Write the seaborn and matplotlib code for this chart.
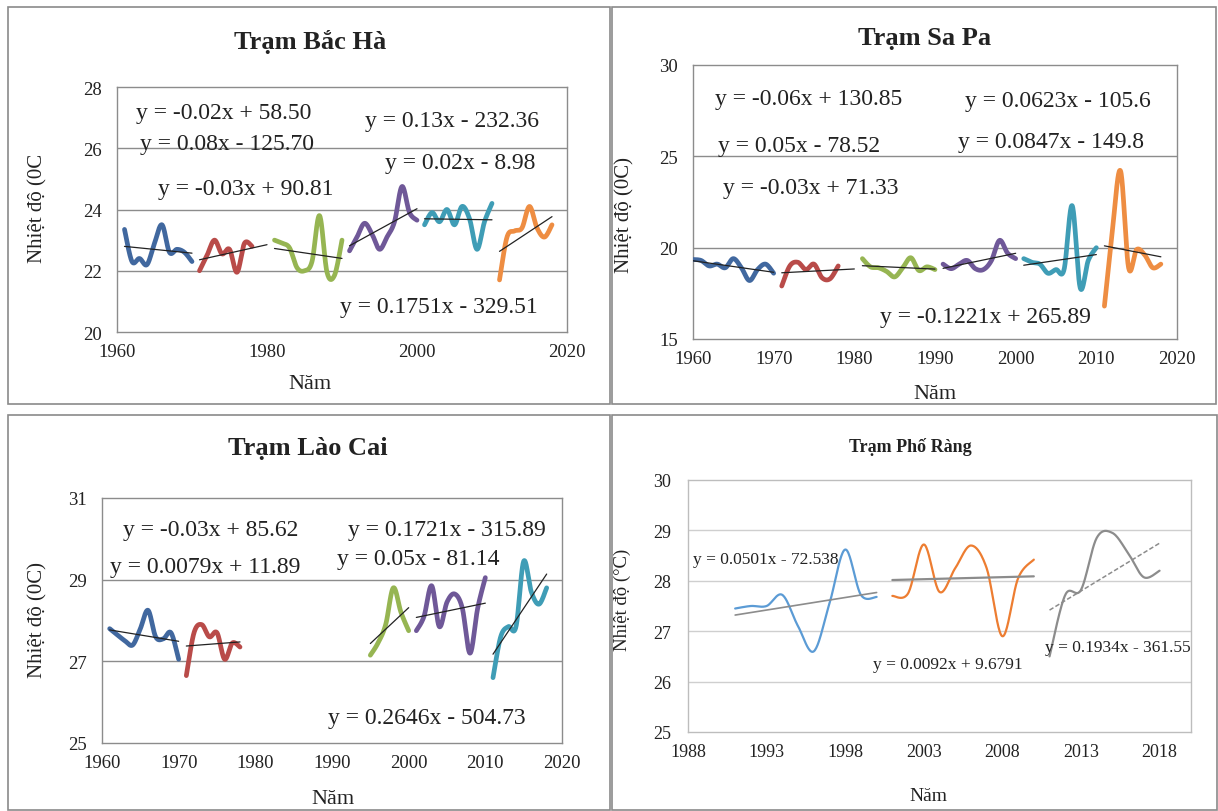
import numpy as np
import pandas as pd
import matplotlib
matplotlib.use("Agg")
import matplotlib.pyplot as plt
from matplotlib.patches import Rectangle
import seaborn as sns

sns.set_style("white")
plt.rcParams['font.family'] = ['Liberation Serif', 'DejaVu Serif']

# ---------------- data ----------------
# Trạm Bắc Hà
BH_Y1 = list(range(1961, 1971)); BH_T1 = [23.35, 22.3, 22.4, 22.2, 22.9, 23.5, 22.6, 22.7, 22.6, 22.3]
BH_Y2 = list(range(1971, 1979)); BH_T2 = [22.0, 22.5, 23.0, 22.55, 22.7, 21.95, 22.9, 22.8]
BH_Y3 = list(range(1981, 1991)); BH_T3 = [23.0, 22.9, 22.75, 22.1, 22.0, 22.3, 23.8, 21.95, 21.85, 23.0]
BH_Y4 = list(range(1991, 2001)); BH_T4 = [22.65, 23.1, 23.55, 23.2, 22.7, 23.1, 23.6, 24.75, 23.9, 23.65]
BH_Y5 = list(range(2001, 2011)); BH_T5 = [23.5, 23.9, 23.6, 24.0, 23.5, 24.1, 23.7, 22.7, 23.6, 24.2]
BH_Y6 = list(range(2011, 2019)); BH_T6 = [21.7, 23.1, 23.3, 23.4, 24.1, 23.4, 23.1, 23.5]
BH_EQ = ["y = -0.02x + 58.50", "y = 0.08x - 125.70", "y = -0.03x + 90.81",
         "y = 0.13x - 232.36", "y = 0.02x - 8.98", "y = 0.1751x - 329.51"]

# Trạm Sa Pa
SP_Y1 = list(range(1960, 1971)); SP_T1 = [19.35, 19.3, 19.0, 19.1, 18.9, 19.4, 18.9, 18.2, 18.8, 19.1, 18.6]
SP_Y2 = list(range(1971, 1979)); SP_T2 = [17.9, 19.0, 19.2, 18.8, 19.1, 18.35, 18.3, 19.0]
SP_Y3 = list(range(1981, 1991)); SP_T3 = [19.4, 18.95, 18.9, 18.7, 18.4, 18.9, 19.45, 18.75, 18.95, 18.8]
SP_Y4 = list(range(1991, 2001)); SP_T4 = [19.1, 18.85, 19.1, 19.3, 18.85, 18.8, 19.3, 20.4, 19.7, 19.4]
SP_Y5 = list(range(2001, 2011)); SP_T5 = [19.4, 19.2, 19.1, 18.6, 18.8, 18.8, 22.3, 17.8, 19.3, 20.0]
SP_Y6 = list(range(2011, 2019)); SP_T6 = [16.8, 21.0, 24.2, 18.9, 19.9, 19.6, 18.9, 19.1]
SP_EQ = ["y = -0.06x + 130.85", "y = 0.05x - 78.52", "y = -0.03x + 71.33",
         "y = 0.0623x - 105.6", "y = 0.0847x - 149.8", "y = -0.1221x + 265.89"]

# Trạm Lào Cai
LC_Y1 = list(range(1961, 1971)); LC_T1 = [27.8, 27.65, 27.5, 27.4, 27.8, 28.25, 27.6, 27.55, 27.7, 27.05]
LC_Y2 = list(range(1971, 1979)); LC_T2 = [26.65, 27.7, 27.9, 27.6, 27.7, 27.05, 27.45, 27.35]
LC_Y3 = list(range(1995, 2001)); LC_T3 = [27.15, 27.45, 27.9, 28.8, 28.2, 27.75]
LC_Y4 = list(range(2001, 2011)); LC_T4 = [27.75, 28.1, 28.85, 27.85, 28.45, 28.65, 28.3, 27.2, 28.3, 29.05]
LC_Y5 = list(range(2011, 2019)); LC_T5 = [26.6, 27.6, 27.85, 27.85, 29.45, 28.7, 28.4, 28.8]
LC_EQ = ["y = -0.03x + 85.62", "y = 0.0079x + 11.89", "y = 0.1721x - 315.89",
         "y = 0.05x - 81.14", "y = 0.2646x - 504.73"]

# Trạm Phố Ràng
PR_Y1 = list(range(1991, 2001)); PR_T1 = [27.45, 27.5, 27.5, 27.72, 27.1, 26.6, 27.55, 28.62, 27.72, 27.68]
PR_Y2 = list(range(2001, 2011)); PR_T2 = [27.7, 27.75, 28.72, 27.78, 28.25, 28.7, 28.25, 26.9, 28.05, 28.42]
PR_Y3 = list(range(2011, 2019)); PR_T3 = [26.5, 27.72, 27.82, 28.85, 28.95, 28.55, 28.07, 28.2]
PR_EQ = ["y = 0.0501x - 72.538", "y = 0.0092x + 9.6791", "y = 0.1934x - 361.55"]

TITLES = ["Trạm Bắc Hà", "Trạm Sa Pa", "Trạm Lào Cai", "Trạm Phố Ràng"]

# colours
C_BLUE, C_RED, C_GREEN = "#41689f", "#b94b49", "#96b552"
C_PURPLE, C_TEAL, C_ORANGE = "#6f5898", "#3f9db6", "#ee8d42"
C2_BLUE, C2_ORANGE, C2_GRAY = "#5b9bd5", "#ed7d31", "#8c8c8c"

W, H = 1218, 812
fig = plt.figure(figsize=(W / 100, H / 100), dpi=100)


def px_axes(x0, y0, x1, y1):
    return fig.add_axes([x0 / W, 1 - y1 / H, (x1 - x0) / W, (y1 - y0) / H])


def smooth(xs, ys, n=24):
    x = np.asarray(xs, float); y = np.asarray(ys, float)
    X = np.r_[x[0], x, x[-1]]; Y = np.r_[y[0], y, y[-1]]
    t = np.linspace(0, 1, n, endpoint=False)
    ox, oy = [], []
    for i in range(1, len(X) - 2):
        for P, out in ((X, ox), (Y, oy)):
            p0, p1, p2, p3 = P[i - 1], P[i], P[i + 1], P[i + 2]
            out.extend(0.5 * (2 * p1 + (-p0 + p2) * t + (2 * p0 - 5 * p1 + 4 * p2 - p3) * t ** 2
                              + (-p0 + 3 * p1 - 3 * p2 + p3) * t ** 3))
    ox.append(x[-1]); oy.append(y[-1])
    return np.array(ox), np.array(oy)


def draw_series(ax, years, temps, color, lw, trend_color, trend_lw, trend_ls="-", span=None):
    sx, sy = smooth(years, temps)
    df = pd.DataFrame({"x": sx, "y": sy})
    sns.lineplot(data=df, x="x", y="y", ax=ax, color=color, lw=lw, sort=False,
                 estimator=None, zorder=3)
    coef = np.polyfit(years, temps, 1)
    lo, hi = span if span else (years[0], years[-1])
    tx = np.array([lo, hi], float)
    sns.lineplot(x=tx, y=np.polyval(coef, tx), ax=ax, color=trend_color, lw=trend_lw,
                 ls=trend_ls, sort=False, estimator=None, zorder=4)


def style_axes(ax, xlim, ylim, xticks, yticks, gridc, spinec, labelsize, ypad=7):
    ax.set_xlim(*xlim); ax.set_ylim(*ylim)
    ax.set_xticks(xticks); ax.set_yticks(yticks)
    ax.set_xlabel(""); ax.set_ylabel("")
    for y in yticks[1:-1]:
        ax.axhline(y, color=gridc, lw=1.0, zorder=1)
    for s in ax.spines.values():
        s.set_color(spinec); s.set_linewidth(1.0); s.set_visible(True)
    ax.tick_params(direction="out", length=4, width=0.8, color=spinec,
                   labelsize=labelsize, labelcolor="#222222")
    ax.tick_params(axis="y", pad=ypad)
    ax.tick_params(axis="x", pad=4)
    ax.set_facecolor("white")


def ftext(x, y, s, **kw):
    fig.text(x / W, 1 - y / H, s, ha="center", va="center", color="#222222", **kw)


# panel frames
for (x0, y0, x1, y1) in [(8, 8, 610, 405), (612, 8, 1216, 405), (8, 416, 610, 811), (612, 416, 1217, 811)]:
    fig.add_artist(Rectangle((x0 / W, 1 - y1 / H), (x1 - x0) / W, (y1 - y0) / H,
                             transform=fig.transFigure, fill=False, ec="#8a8a8a", lw=1.2))

EQ_FS = 17
TL = 0.9
TK = 13.5
TITLE_FS = 19
LAB_FS = 15
# ---------- Bắc Hà ----------
ax1 = px_axes(117, 88, 567, 333)
for yy, tt, cc, sp in [(BH_Y1, BH_T1, C_BLUE, None), (BH_Y2, BH_T2, C_RED, (1971, 1980)),
                       (BH_Y3, BH_T3, C_GREEN, None), (BH_Y4, BH_T4, C_PURPLE, None),
                       (BH_Y5, BH_T5, C_TEAL, None), (BH_Y6, BH_T6, C_ORANGE, None)]:
    draw_series(ax1, yy, tt, cc, 3.4, "#222222", TL, span=sp)
style_axes(ax1, (1960, 2020), (20, 28), [1960, 1980, 2000, 2020], [20, 22, 24, 26, 28],
           "#8c8c8c", "#8c8c8c", TK)
for s, (x, y) in zip(BH_EQ, [(1962.5, 27.18), (1963.1, 26.17), (1965.5, 24.67),
                             (1993.1, 26.92), (1995.7, 25.52), (1989.7, 20.82)]):
    ax1.text(x, y, s, fontsize=EQ_FS, ha="left", va="center", color="#222222", zorder=5)
ftext(310, 42, TITLES[0], fontsize=TITLE_FS, fontweight="bold")
ftext(38, 208, "Nhiệt độ (0C", fontsize=LAB_FS, rotation=90)
ftext(310, 385, "Năm", fontsize=16)

# ---------- Sa Pa ----------
ax2 = px_axes(693, 66, 1177, 340)
for yy, tt, cc, sp in [(SP_Y1, SP_T1, C_BLUE, None), (SP_Y2, SP_T2, C_RED, (1971, 1980)),
                       (SP_Y3, SP_T3, C_GREEN, None), (SP_Y4, SP_T4, C_PURPLE, None),
                       (SP_Y5, SP_T5, C_TEAL, None), (SP_Y6, SP_T6, C_ORANGE, None)]:
    draw_series(ax2, yy, tt, cc, 3.4, "#222222", TL, span=sp)
style_axes(ax2, (1960, 2020), (15, 30), list(range(1960, 2021, 10)), [15, 20, 25, 30],
           "#8c8c8c", "#8c8c8c", TK)
for s, (x, y) in zip(SP_EQ, [(1962.7, 28.14), (1963.1, 25.62), (1963.7, 23.27),
                             (1993.7, 28.08), (1992.9, 25.79), (1983.2, 16.21)]):
    ax2.text(x, y, s, fontsize=EQ_FS, ha="left", va="center", color="#222222", zorder=5)
ftext(925, 38, TITLES[1], fontsize=TITLE_FS, fontweight="bold")
ftext(625, 215, "Nhiệt độ (0C)", fontsize=LAB_FS, rotation=90)
ftext(935, 395, "Năm", fontsize=16)

# ---------- Lào Cai ----------
ax3 = px_axes(102, 499, 562, 744)
for yy, tt, cc in [(LC_Y1, LC_T1, C_BLUE), (LC_Y2, LC_T2, C_RED), (LC_Y3, LC_T3, C_GREEN),
                   (LC_Y4, LC_T4, C_PURPLE), (LC_Y5, LC_T5, C_TEAL)]:
    draw_series(ax3, yy, tt, cc, 3.4, "#222222", TL)
style_axes(ax3, (1960, 2020), (25, 31), list(range(1960, 2021, 10)), [25, 27, 29, 31],
           "#8c8c8c", "#8c8c8c", TK)
for s, (x, y) in zip(LC_EQ, [(1962.7, 30.22), (1961.0, 29.32), (1992.1, 30.22),
                             (1990.65, 29.51), (1989.5, 25.62)]):
    ax3.text(x, y, s, fontsize=EQ_FS, ha="left", va="center", color="#222222", zorder=5)
ftext(308, 449, TITLES[2], fontsize=TITLE_FS, fontweight="bold")
ftext(38, 620, "Nhiệt độ (0C)", fontsize=LAB_FS, rotation=90)
ftext(333, 800, "Năm", fontsize=16)

# ---------- Phố Ràng ----------
ax4 = px_axes(688, 481, 1191, 733)
draw_series(ax4, PR_Y1, PR_T1, C2_BLUE, 1.6, "#8c8c8c", 1.2)
draw_series(ax4, PR_Y2, PR_T2, C2_ORANGE, 1.6, "#8c8c8c", 1.6)
draw_series(ax4, PR_Y3, PR_T3, C2_GRAY, 1.6, "#8c8c8c", 1.1, trend_ls=(0, (3, 1.5)))
style_axes(ax4, (1988, 2020), (25, 30), list(range(1988, 2019, 5)), [25, 26, 27, 28, 29, 30],
           "#cfcfcf", "#bdbdbd", 13, ypad=8)
for s, (x, y) in zip(PR_EQ, [(1988.3, 28.43), (1999.8, 26.35), (2010.7, 26.69)]):
    ax4.text(x, y, s, fontsize=12.5, ha="left", va="center", color="#222222", zorder=5)
ftext(910, 447, TITLES[3], fontsize=13, fontweight="bold")
ftext(622, 600, "Nhiệt độ (°C)", fontsize=13.5, rotation=90)
ftext(928, 797, "Năm", fontsize=14)

fig.savefig("out.png", dpi=100, facecolor="white")
